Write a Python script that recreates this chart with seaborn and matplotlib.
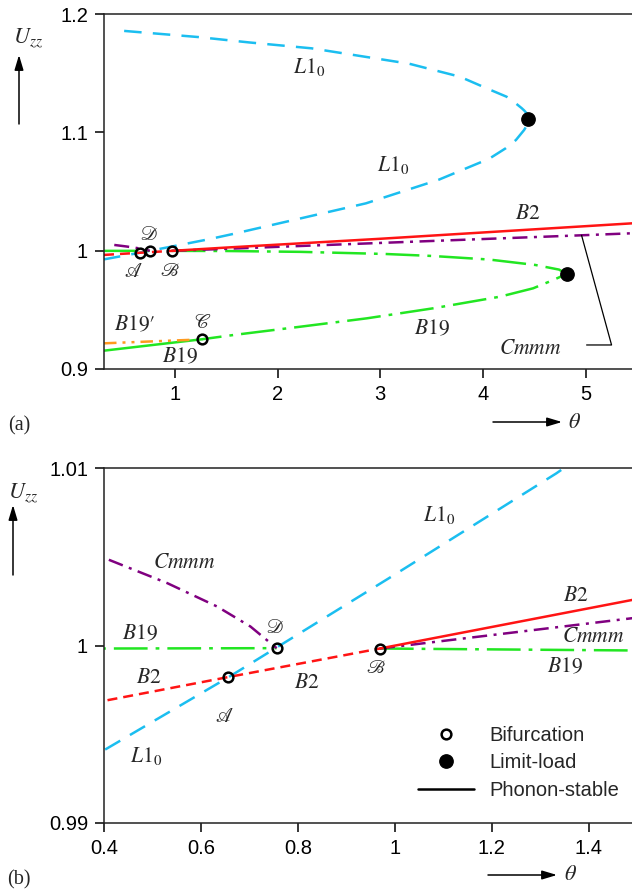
import numpy as np
import pandas as pd
import matplotlib
matplotlib.use("Agg")
import matplotlib.pyplot as plt
from matplotlib.lines import Line2D
import seaborn as sns

# ---------------- data (theta, U_zz) ----------------
# L1_0 branch: lower part -> limit point -> upper part
L1_theta = [0.30, 0.40, 0.656, 1.00, 1.333, 1.56, 2.21, 2.86, 3.57, 4.06, 4.22, 4.32, 4.40, 4.43, 4.44,
            4.43, 4.40, 4.375, 4.30, 4.229, 4.035, 3.775, 3.28, 2.33, 1.72, 1.23, 0.41]
L1_U = [0.9925, 0.9941, 0.9982, 1.0040, 1.0097, 1.0140, 1.0270, 1.0400, 1.0600, 1.0777, 1.0865, 1.0935,
        1.1020, 1.1065, 1.1110, 1.1155, 1.1185, 1.1205, 1.1258, 1.1301, 1.1372, 1.1470, 1.1580, 1.1710,
        1.1760, 1.1805, 1.1864]

# B2 branch: unstable (dashed) and phonon-stable (solid)
B2u_theta = [0.31, 0.40, 0.656, 0.969]
B2u_U = [0.99641, 0.99688, 0.99822, 0.99983]
B2s_theta = [0.969, 1.49, 2.99, 5.45]
B2s_U = [0.99983, 1.00257, 1.0100, 1.0231]

# Cmmm branch
Cm1_theta = [0.41, 0.53, 0.633, 0.702, 0.756]
Cm1_U = [1.00483, 1.00352, 1.0022, 1.00107, 0.99985]
Cm2_theta = [0.969, 1.49, 2.99, 4.96, 5.45]
Cm2_U = [0.99983, 1.00154, 1.0065, 1.0130, 1.0147]

# B19 branch
B19a_theta = [0.31, 0.40, 0.756]
B19a_U = [0.99983, 0.99983, 0.99985]
B19b_theta = [0.969, 1.49, 2.22, 3.05, 3.51, 4.06, 4.51, 4.74, 4.813,
              4.683, 4.488, 4.164, 3.515, 2.867, 2.218, 1.568, 1.261]
B19b_U = [0.99983, 0.99972, 0.9990, 0.9972, 0.9955, 0.9925, 0.9879, 0.9840, 0.9803,
          0.9752, 0.9682, 0.9611, 0.9513, 0.9428, 0.9357, 0.9287, 0.9251]
B19s_theta = [0.31, 1.261]
B19s_U = [0.9155, 0.9251]

# B19' branch
B19p_theta = [0.31, 1.20]
B19p_U = [0.9217, 0.9248]

# special points
bif_theta = [0.656, 0.756, 0.969, 1.261]
bif_U = [0.99822, 0.99985, 0.99983, 0.9251]
lim_theta = [4.44, 4.813]
lim_U = [1.1110, 0.9803]

# ---------------- style ----------------
sns.set_theme(style="ticks")
plt.rcParams["font.family"] = ["Liberation Sans", "DejaVu Sans"]
plt.rcParams["mathtext.fontset"] = "stix"

CYAN = "#1BBEF0"
RED = "#FF1414"
GREEN = "#22E622"
PURPLE = "#800080"
ORANGE = "#FF9A1F"
LW = 1.8

ls_cyan = (0, (7, 4.5))
ls_red = (0, (4, 2.4))
ls_green = (0, (13.5, 3.2, 1.5, 3.2))
ls_purple = (0, (6, 2.6, 1.2, 2.6))
ls_orange = (0, (5, 2.4, 1.2, 2.4, 1.2, 2.4))

W, H = 632, 890
fig = plt.figure(figsize=(W / 100, H / 100), dpi=100)
axa = fig.add_axes([104 / W, 1 - 369 / H, 528 / W, 355 / H])
axb = fig.add_axes([104 / W, 1 - 823 / H, 528 / W, 355 / H])


def line(ax, x, y, color, ls):
    df = pd.DataFrame({"theta": x, "U": y})
    sns.lineplot(data=df, x="theta", y="U", sort=False, estimator=None, color=color,
                 linewidth=LW, linestyle=ls, ax=ax)


def draw_curves(ax):
    line(ax, L1_theta, L1_U, CYAN, ls_cyan)
    line(ax, B19a_theta, B19a_U, GREEN, ls_green)
    line(ax, B19b_theta, B19b_U, GREEN, ls_green)
    line(ax, B19s_theta, B19s_U, GREEN, "-")
    line(ax, B19p_theta, B19p_U, ORANGE, ls_orange)
    line(ax, Cm1_theta, Cm1_U, PURPLE, ls_purple)
    line(ax, Cm2_theta, Cm2_U, PURPLE, ls_purple)
    line(ax, B2u_theta, B2u_U, RED, ls_red)
    line(ax, B2s_theta, B2s_U, RED, "-")
    ax.plot(bif_theta, bif_U, "o", ms=7, mfc="none", mec="black", mew=1.8, zorder=5)
    ax.plot(lim_theta, lim_U, "o", ms=9.6, mfc="black", mec="black", zorder=5)


def style_axes(ax):
    ax.spines["right"].set_visible(False)
    for s in ("left", "bottom", "top"):
        ax.spines[s].set_linewidth(1.1)
        ax.spines[s].set_color("#222222")
    ax.tick_params(direction="out", length=6.5, width=1.1, labelsize=14.5, pad=5, colors="black")
    ax.set_xlabel("")
    ax.set_ylabel("")


draw_curves(axa)
draw_curves(axb)

# ---- panel (a)
axa.set_xlim(0.31, 5.45)
axa.set_ylim(0.9, 1.2)
axa.set_xticks([1, 2, 3, 4, 5])
axa.set_xticklabels(["1", "2", "3", "4", "5"])
axa.set_yticks([0.9, 1.0, 1.1, 1.2])
axa.set_yticklabels(["0.9", "1", "1.1", "1.2"])
style_axes(axa)

TF = 15.5
axa.text(2.305, 1.1552, r"$L1_0$", fontsize=TF, ha="center", va="center")
axa.text(3.123, 1.0724, r"$L1_0$", fontsize=TF, ha="center", va="center")
axa.text(4.436, 1.0310, r"$B2$", fontsize=TF, ha="center", va="center")
axa.text(3.502, 0.9338, r"$B19$", fontsize=TF, ha="center", va="center")
axa.text(4.456, 0.9177, r"$Cmmm$", fontsize=TF, ha="center", va="center")
axa.text(0.612, 0.9372, r"$B19\prime$", fontsize=TF, ha="center", va="center")
axa.text(1.05, 0.9101, r"$B19$", fontsize=TF, ha="center", va="center")
CF = 14
axa.text(1.274, 0.9389, r"$\mathscr{C}$", fontsize=CF, ha="center", va="center")
axa.text(0.748, 1.0132, r"$\mathscr{D}$", fontsize=CF, ha="center", va="center")
axa.text(0.592, 0.9820, r"$\mathscr{A}$", fontsize=CF, ha="center", va="center")
axa.text(0.952, 0.9820, r"$\mathscr{B}$", fontsize=CF, ha="center", va="center")
# Cmmm leader line
axa.plot([4.959, 5.251, 5.008], [1.0130, 0.9203, 0.9203], color="black", lw=0.9, clip_on=False)

# ---- panel (b)
axb.set_xlim(0.4, 1.489)
axb.set_ylim(0.99, 1.01)
axb.set_xticks([0.4, 0.6, 0.8, 1.0, 1.2, 1.4])
axb.set_xticklabels(["0.4", "0.6", "0.8", "1", "1.2", "1.4"])
axb.set_yticks([0.99, 1.0, 1.01])
axb.set_yticklabels(["0.99", "1", "1.01"])
style_axes(axb)

axb.text(0.565, 1.00465, r"$Cmmm$", fontsize=TF, ha="center", va="center")
axb.text(0.474, 1.00065, r"$B19$", fontsize=TF, ha="center", va="center")
axb.text(0.493, 0.99822, r"$B2$", fontsize=TF, ha="center", va="center")
axb.text(0.487, 0.99377, r"$L1_0$", fontsize=TF, ha="center", va="center")
axb.text(0.819, 0.99789, r"$B2$", fontsize=TF, ha="center", va="center")
axb.text(1.091, 1.00735, r"$L1_0$", fontsize=TF, ha="center", va="center")
axb.text(1.374, 1.00279, r"$B2$", fontsize=TF, ha="center", va="center")
axb.text(1.409, 1.00048, r"$Cmmm$", fontsize=TF, ha="center", va="center")
axb.text(1.351, 0.99879, r"$B19$", fontsize=TF, ha="center", va="center")
axb.text(0.753, 1.0010, r"$\mathscr{D}$", fontsize=CF, ha="center", va="center")
axb.text(0.648, 0.99599, r"$\mathscr{A}$", fontsize=CF, ha="center", va="center")
axb.text(0.961, 0.99873, r"$\mathscr{B}$", fontsize=CF, ha="center", va="center")

handles = [
    Line2D([], [], ls="none", marker="o", ms=7, mfc="none", mec="black", mew=1.8),
    Line2D([], [], ls="none", marker="o", ms=9.6, mfc="black", mec="black"),
    Line2D([], [], color="black", lw=LW),
]
axb.legend(handles, ["Bifurcation", "Limit-load", "Phonon-stable"], loc="upper left",
           bbox_to_anchor=(0.595, 0.274), frameon=False, fontsize=14.5, handlelength=2.75,
           handletextpad=0.8, labelspacing=0.43, borderpad=0, borderaxespad=0)

# ---- outer annotations (figure pixel coordinates)
def fx(px):
    return px / W


def fy(py):
    return 1 - py / H


arrow_kw = dict(arrowstyle="-|>,head_length=0.6,head_width=0.18", color="black", lw=1.1,
                mutation_scale=15, shrinkA=0, shrinkB=0)
for (x0, y0, x1, y1) in [(19, 124, 19, 55), (13, 575, 13, 505), (493, 422, 562, 422), (488, 875, 557, 875)]:
    fig.add_artist(matplotlib.patches.FancyArrowPatch((fx(x0), fy(y0)), (fx(x1), fy(y1)),
                                                      transform=fig.transFigure, **arrow_kw))

fig.text(fx(28), fy(38), r"$U_{zz}$", fontsize=16, ha="center", va="center")
fig.text(fx(23), fy(493), r"$U_{zz}$", fontsize=16, ha="center", va="center")
fig.text(fx(575), fy(422), r"$\theta$", fontsize=16, ha="center", va="center")
fig.text(fx(571), fy(875), r"$\theta$", fontsize=16, ha="center", va="center")
fig.text(fx(19), fy(426), "(a)", fontsize=14.5, ha="center", va="center", family="Liberation Serif")
fig.text(fx(19), fy(880), "(b)", fontsize=14.5, ha="center", va="center", family="Liberation Serif")

fig.savefig("out.png", dpi=100)
